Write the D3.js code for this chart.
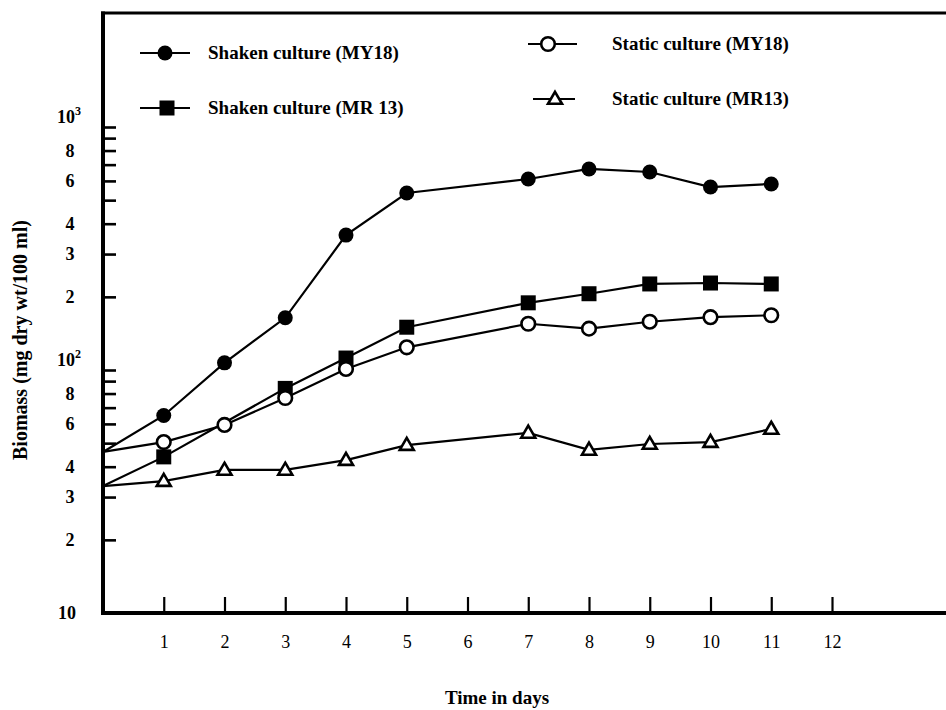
<!DOCTYPE html>
<html>
<head>
<meta charset="utf-8">
<script src="https://cdn.jsdelivr.net/npm/d3@7"></script>
<style>
  html, body { margin: 0; padding: 0; background: #fff; }
  svg { display: block; font-family: "Liberation Serif", "Times New Roman", serif; }
</style>
</head>
<body>
<svg id="chart" width="946" height="710"></svg>
<script>
// ---- Data ----
const xTickValues = [1, 2, 3, 4, 5, 6, 7, 8, 9, 10, 11, 12];
const xTickLabels = ["1", "2", "3", "4", "5", "6", "7", "8", "9", "10", "11", "12"];

const yTickValues = [10, 20, 30, 40, 50, 60, 70, 80, 90, 100, 200, 300, 400, 500, 600, 700, 800, 900, 1000];
const yLabelValues = [10, 20, 30, 40, 60, 80, 100, 200, 300, 400, 600, 800, 1000];
const yLabelTexts  = ["10", "2", "3", "4", "6", "8", "10^2", "2", "3", "4", "6", "8", "10^3"];

const daysShakenMY18 = [0, 1, 2, 3, 4, 5, 7, 8, 9, 10, 11];
const shakenMY18     = [46, 65, 107, 164, 359, 535, 611, 672, 653, 566, 583];

const daysShakenMR13 = [0, 1, 3, 4, 5, 7, 8, 9, 10, 11];
const shakenMR13     = [33.3, 43.9, 84, 112, 150, 189, 206, 226, 228, 226];

const daysStaticMY18 = [0, 1, 2, 3, 4, 5, 7, 8, 9, 10, 11];
const staticMY18     = [46, 50.5, 59.4, 76.7, 101, 124, 155, 148, 158, 165, 168];

const daysStaticMR13 = [0, 1, 2, 3, 4, 5, 7, 8, 9, 10, 11];
const staticMR13     = [33.3, 34.9, 38.8, 38.8, 42.6, 49.1, 55.1, 46.9, 49.6, 50.5, 57.2];

const seriesNames = ["Shaken culture (MY18)", "Shaken culture (MR 13)", "Static culture (MY18)", "Static culture (MR13)"];

// ---- Layout ----
const svg = d3.select("#chart");
const pLeft = 103, pRight = 946, pTop = 13, pBottom = 613;
const pxPerDay = (832 - 103) / 12;
const pxPerDecade = 243;

const x = d3.scaleLinear().domain([0, (pRight - pLeft) / pxPerDay]).range([pLeft, pRight]);
const y = d3.scaleLog().domain([10, Math.pow(10, 1 + (pBottom - pTop) / pxPerDecade)]).range([pBottom, pTop]);

// ---- Axes ticks ----
const yAxis = d3.axisLeft(y).tickValues(yTickValues).tickSizeInner(-13).tickSizeOuter(0).tickFormat("");
const gy = svg.append("g").attr("transform", `translate(${pLeft},0)`).call(yAxis);
gy.select(".domain").remove();
gy.selectAll(".tick line").attr("stroke", "#000").attr("stroke-width", 2.6);

const xAxis = d3.axisBottom(x).tickValues(xTickValues).tickSizeInner(-16).tickSizeOuter(0)
  .tickPadding(22).tickFormat((d, i) => xTickLabels[i]);
const gx = svg.append("g").attr("transform", `translate(0,${pBottom})`).call(xAxis);
gx.select(".domain").remove();
gx.selectAll(".tick line").attr("stroke", "#000").attr("stroke-width", 2.2);
gx.selectAll(".tick text").attr("fill", "#000").attr("font-size", 18)
  .attr("font-family", "'Liberation Serif', serif");

// ---- Frame ----
svg.append("line").attr("x1", pLeft).attr("x2", pLeft).attr("y1", pTop - 1.5).attr("y2", pBottom + 2)
  .attr("stroke", "#000").attr("stroke-width", 4);
svg.append("line").attr("x1", pLeft - 2).attr("x2", pRight).attr("y1", pBottom).attr("y2", pBottom)
  .attr("stroke", "#000").attr("stroke-width", 4);
svg.append("line").attr("x1", pLeft - 2).attr("x2", pRight).attr("y1", pTop).attr("y2", pTop)
  .attr("stroke", "#000").attr("stroke-width", 3);

// ---- Y labels ----
const ylab = svg.append("g").attr("font-weight", "bold").attr("font-size", 18).attr("fill", "#000");
yLabelValues.forEach((v, i) => {
  const t = yLabelTexts[i];
  if (t.indexOf("^") >= 0) {
    const [b, e] = t.split("^");
    const txt = ylab.append("text").attr("x", 57).attr("y", y(v) - 4).attr("text-anchor", "start");
    txt.append("tspan").text(b);
    txt.append("tspan").attr("dy", -8).attr("font-size", 12).text(e);
  } else if (v === 10) {
    ylab.append("text").attr("x", 67).attr("y", y(v) + 6).attr("text-anchor", "middle").text(t);
  } else {
    ylab.append("text").attr("x", 70).attr("y", y(v) + 6).attr("text-anchor", "middle").text(t);
  }
});

// ---- Axis titles ----
svg.append("text").attr("transform", `translate(27,340) rotate(-90)`)
  .attr("text-anchor", "middle").attr("font-weight", "bold").attr("font-size", 20)
  .text("Biomass (mg dry wt/100 ml)");
svg.append("text").attr("x", 497).attr("y", 704)
  .attr("text-anchor", "middle").attr("font-weight", "bold").attr("font-size", 19)
  .text("Time in days");

// ---- Series ----
const series = [
  { days: daysShakenMY18, vals: shakenMY18, marker: "fcircle" },
  { days: daysShakenMR13, vals: shakenMR13, marker: "fsquare" },
  { days: daysStaticMY18, vals: staticMY18, marker: "ocircle" },
  { days: daysStaticMR13, vals: staticMR13, marker: "otri" }
];

const line = d3.line().x(d => x(d[0])).y(d => y(d[1]));
const gl = svg.append("g");
series.forEach(s => {
  const pts = s.days.map((d, i) => [d, s.vals[i]]);
  gl.append("path").attr("d", line(pts)).attr("fill", "none").attr("stroke", "#000").attr("stroke-width", 2.2);
});

function drawMarker(g, type, cx, cy) {
  if (type === "fcircle") {
    g.append("circle").attr("cx", cx).attr("cy", cy).attr("r", 7.5).attr("fill", "#000");
  } else if (type === "fsquare") {
    g.append("rect").attr("x", cx - 7.5).attr("y", cy - 7.5).attr("width", 15).attr("height", 15).attr("fill", "#000");
  } else if (type === "ocircle") {
    g.append("circle").attr("cx", cx).attr("cy", cy).attr("r", 6.8).attr("fill", "#fff")
      .attr("stroke", "#000").attr("stroke-width", 2.6);
  } else if (type === "otri") {
    const h = 12, w = 14;
    g.append("path").attr("d", `M${cx},${cy - h * 0.6} L${cx + w / 2},${cy + h * 0.4} L${cx - w / 2},${cy + h * 0.4} Z`)
      .attr("fill", "#fff").attr("stroke", "#000").attr("stroke-width", 2.6).attr("stroke-linejoin", "miter");
  }
}

const gm = svg.append("g");
series.forEach(s => {
  s.days.forEach((d, i) => {
    if (d > 0) drawMarker(gm, s.marker, x(d), y(s.vals[i]));
  });
});

// ---- Legend ----
const legendItems = [
  { name: seriesNames[0], marker: "fcircle", x1: 140, x2: 190, mx: 165, ly: 53, tx: 208 },
  { name: seriesNames[1], marker: "fsquare", x1: 140, x2: 190, mx: 167, ly: 108, tx: 208 },
  { name: seriesNames[2], marker: "ocircle", x1: 528, x2: 577, mx: 548, ly: 44, tx: 612 },
  { name: seriesNames[3], marker: "otri", x1: 533, x2: 575, mx: 555, ly: 99, tx: 612 }
];
const lg = svg.append("g");
legendItems.forEach(it => {
  lg.append("line").attr("x1", it.x1).attr("x2", it.x2).attr("y1", it.ly).attr("y2", it.ly)
    .attr("stroke", "#000").attr("stroke-width", 2.2);
  drawMarker(lg, it.marker, it.mx, it.ly);
  lg.append("text").attr("x", it.tx).attr("y", it.ly + 6).attr("font-weight", "bold")
    .attr("font-size", 19).attr("fill", "#000").text(it.name);
});
</script>
</body>
</html>
